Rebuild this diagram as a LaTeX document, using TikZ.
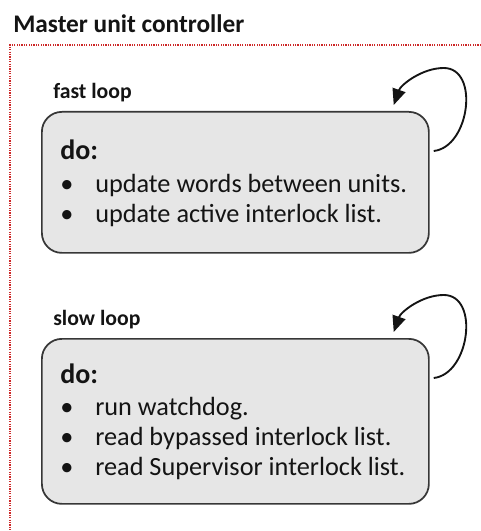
\documentclass[tikz,border=0pt]{standalone}
\usepackage{fontspec}
\setmainfont{Carlito}
\usetikzlibrary{arrows.meta,calc}
\newdimen\pxu \pxu=0.75pt
\definecolor{boxfill}{RGB}{230,230,230}
\definecolor{boxline}{RGB}{55,55,55}
\definecolor{ink}{RGB}{20,20,20}
\definecolor{frame}{RGB}{205,40,40}
\tikzset{
  loopbox/.style={draw=boxline, fill=boxfill, line width=1.3pt, rounded corners=15pt,
    anchor=north west, inner sep=0pt},
  title/.style={anchor=base west, inner sep=0pt, text=ink, font=\bfseries\fontsize{19pt}{22pt}\selectfont},
  looplabel/.style={anchor=base west, inner sep=0pt, text=ink, font=\bfseries\fontsize{16.3pt}{19pt}\selectfont},
  dolabel/.style={anchor=base west, inner sep=0pt, text=ink, font=\bfseries\fontsize{21pt}{24pt}\selectfont},
  item/.style={anchor=base west, inner sep=0pt, text=ink, font=\fontsize{19.7pt}{24pt}\selectfont},
  loopback/.style={-{Triangle[length=12pt,width=10pt]}, line width=1.4pt, draw=ink},
}
\begin{document}
\begin{tikzpicture}[x=\pxu, y=-\pxu]
\useasboundingbox (0,0) rectangle (481,531);

% heading and dotted frame of the controller
\node[title] (head) at (13,33) {Master unit controller};
\coordinate (frameTR) at (481,45);
\coordinate (frameTL) at (10,45);
\coordinate (frameBL) at (10,531);
\draw[frame, line width=1pt, dash pattern=on 0.9pt off 0.9pt] (frameTR) -- (frameTL) -- (frameBL);

% fast loop
\node[looplabel] (fastlbl) at (53,99) {fast loop};
\node[loopbox, minimum width=387\pxu, minimum height=141\pxu] (fast) at (41,111) {};
\node[dolabel] (fastdo) at (60,160) {do:};
\node[item] (fb1) at (60,192) {•};
\node[item] (ft1) at (95,192) {update words between units.};
\node[item] (fb2) at (60,222) {•};
\node[item] (ft2) at (95,222) {update active interlock list.};
\draw[loopback]
  ($(fast.north east)+(4,40)$) .. controls +(36,-4) and +(36,0) ..
  ($(fast.north east)+(14,-43)$) .. controls +(-22,0) and +(7,-20) ..
  ($(fast.north east)+(-36,-6)$);

% slow loop
\node[looplabel] (slowlbl) at (53,325) {slow loop};
\node[loopbox, minimum width=387\pxu, minimum height=165\pxu] (slow) at (41,338) {};
\node[dolabel] (slowdo) at (60,383) {do:};
\node[item] (sb1) at (60,415) {•};
\node[item] (st1) at (95,415) {run watchdog.};
\node[item] (sb2) at (60,445) {•};
\node[item] (st2) at (95,445) {read bypassed interlock list.};
\node[item] (sb3) at (60,475) {•};
\node[item] (st3) at (95,475) {read Supervisor interlock list.};
\draw[loopback]
  ($(slow.north east)+(4,40)$) .. controls +(36,-4) and +(36,0) ..
  ($(slow.north east)+(14,-43)$) .. controls +(-22,0) and +(7,-20) ..
  ($(slow.north east)+(-36,-6)$);
\end{tikzpicture}
\end{document}
